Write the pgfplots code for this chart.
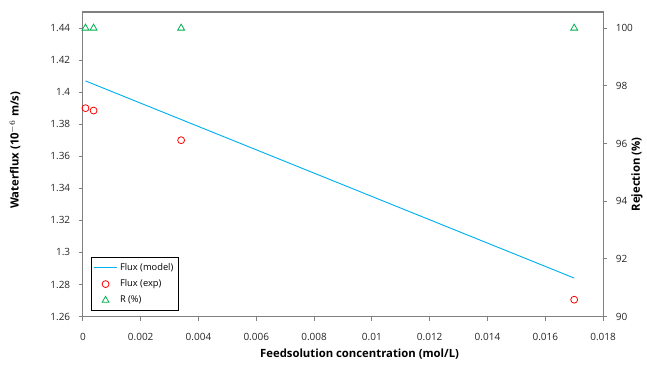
\documentclass[border=0pt]{standalone}
\usepackage{pgfplots}
\pgfplotsset{compat=1.18}
\usepackage{fontspec}
\setmainfont{Open Sans}
\definecolor{fluxblue}{RGB}{0,176,240}
\definecolor{expred}{RGB}{255,0,0}
\definecolor{rgreen}{RGB}{0,176,80}
\definecolor{framegray}{RGB}{128,128,128}
\begin{document}
\begin{tikzpicture}
\pgfplotsset{
  every axis/.append style={
    scale only axis, width=390.75pt, height=228.75pt,
    xmin=0, xmax=0.018,
    /pgf/number format/assume math mode=true,
    tick label style={font=\fontsize{7.5}{9}\selectfont, text=black!85},
    label style={font=\bfseries\fontsize{8.5}{10}\selectfont},
    axis line style={framegray, line width=0.8pt},
    tick style={framegray, line width=0.6pt},
    tick align=outside,
    major tick length=3pt,
  }
}
\begin{axis}[
  ymin=1.26, ymax=1.45,
  ytick={1.26,1.28,1.30,1.32,1.34,1.36,1.38,1.40,1.42,1.44},
  xtick={0,0.002,0.004,0.006,0.008,0.01,0.012,0.014,0.016,0.018},
  xtick pos=bottom, ytick pos=left,
  xticklabel style={/pgf/number format/fixed, /pgf/number format/precision=3, yshift=-6pt},
  yticklabel style={/pgf/number format/fixed, /pgf/number format/precision=2, xshift=-3pt},
  scaled x ticks=false, scaled y ticks=false,
  xlabel={Feedsolution concentration (mol/L)},
  xlabel style={at={(axis description cs:0.532,-0.1245)}, anchor=center},
  ylabel={Waterflux (10$^{-6}$ m/s)},
  ylabel style={at={(axis description cs:-0.1305,0.546)}, anchor=center},
  legend style={at={(axis description cs:0.015,0.02)}, anchor=south west,
    draw=black, line width=0.6pt, font=\fontsize{7}{8.5}\selectfont,
    row sep=1.5pt, inner sep=2pt},
  legend cell align=left,
]
\addplot[fluxblue, line width=0.7pt, no marks] coordinates {(0.00009,1.407) (0.017,1.284)};
\addlegendentry{Flux (model)}
\addplot[only marks, mark=o, mark size=2.6pt, expred, line width=0.6pt] coordinates {
  (0.00009,1.390) (0.00037,1.3885) (0.0034,1.370) (0.017,1.2705)};
\addlegendentry{Flux (exp)}
\addlegendimage{only marks, mark=triangle, mark size=3pt, rgreen, line width=0.6pt}
\addlegendentry{R (\%)}
\end{axis}
\begin{axis}[
  ymin=90, ymax=100.56,
  ytick={90,92,94,96,98,100},
  axis x line=none,
  axis y line*=right,
  ytick pos=right,
  yticklabel style={xshift=3pt},
  ylabel={Rejection (\%)},
  ylabel style={at={(axis description cs:1.065,0.467)}, anchor=center},
]
\addplot[only marks, mark=triangle, mark size=3pt, rgreen, line width=0.6pt] coordinates {
  (0.00009,100) (0.00037,100) (0.0034,100) (0.017,100)};
\end{axis}
\useasboundingbox (-62.25pt,-34.5pt) rectangle (423pt,237.75pt);
\end{tikzpicture}
\end{document}
